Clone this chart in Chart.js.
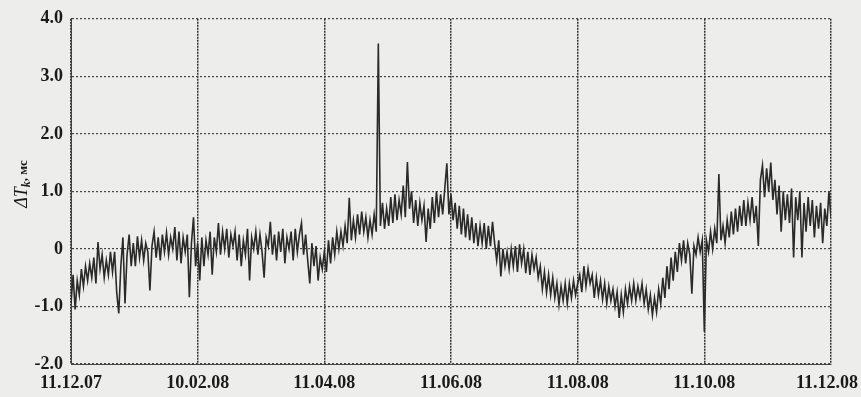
<!DOCTYPE html>
<html>
<head>
<meta charset="utf-8">
<script src="https://cdn.jsdelivr.net/npm/chart.js@4.4.1/dist/chart.umd.min.js"></script>
<style>
  html, body { margin: 0; padding: 0; background: #ededeb; }
  #wrap { width: 861px; height: 397px; }
</style>
</head>
<body>
<div id="wrap"><canvas id="chart" width="861" height="397"></canvas></div>
<script>
// day offsets of the date ticks (day 0 = 11.12.07)
const tickDays = [0, 61, 122, 183, 244, 305, 366];
const tickLabels = ['11.12.07', '10.02.08', '11.04.08', '11.06.08', '11.08.08', '11.10.08', '11.12.08'];
const yTicks = [-2, -1, 0, 1, 2, 3, 4];

// ΔT_k, ms, one reading per day
const deltaT = [
  // 11.12.07 - 10.02.08
  -0.95, -0.45, -1.05, -0.55, -0.8,
  -0.35, -0.65, -0.3, -0.55, -0.25,
  -0.5, -0.15, -0.6, 0.12, -0.35,
  -0.1, -0.5, -0.2, -0.45, -0.05,
  -0.4, -0.05, -0.75, -1.12, -0.3,
  0.2, -0.95, -0.1, 0.25, -0.3,
  0.1, -0.3, 0.22, -0.15, 0.15,
  -0.2, 0.1, -0.05, -0.72, 0.05,
  0.3, -0.15, 0.2, -0.2, 0.25,
  -0.05, 0.28, -0.1, 0.2, 0.0,
  0.38, -0.2, 0.3, -0.25, 0.2,
  -0.05, 0.25, -0.84, 0.1, 0.55,
  -0.3,
  // 10.02.08 - 11.04.08
  0.1, -0.55, 0.2, -0.3, 0.15,
  -0.1, 0.3, -0.45, 0.2, -0.05,
  0.45, -0.1, 0.3, 0.0, 0.35,
  -0.15, 0.25, 0.05, 0.3, -0.2,
  0.25, -0.3, 0.15, -0.1, 0.35,
  -0.55, 0.2, 0.0, 0.3, -0.1,
  0.25, -0.05, -0.5, 0.2, 0.05,
  0.47, -0.1, 0.25, -0.2, 0.3,
  -0.05, 0.35, -0.25, 0.2, 0.0,
  0.3, -0.2, 0.35, -0.05, 0.25,
  0.45, -0.1, 0.25, -0.2, -0.6,
  0.1, -0.3, 0.05, -0.55, -0.15,
  -0.35,
  // 11.04.08 - 11.06.08
  -0.05, -0.4, 0.15, -0.25,
  0.2, -0.1, 0.3, 0.0,
  0.3, 0.05, 0.4, 0.1, 0.89,
  0.15, 0.5, 0.2, 0.6, 0.25,
  0.65, 0.3, 0.55, 0.2, 0.5,
  0.25, 0.6, 0.3, 3.57, 0.4,
  0.8, 0.35, 0.7, 0.4, 0.9,
  0.45, 0.95, 0.5, 0.85, 0.6,
  1.1, 0.55, 1.51, 0.7, 1.0,
  0.45, 0.85, 0.4, 0.8, 0.5,
  0.75, 0.12, 0.7, 0.35, 0.9,
  0.45, 1.0, 0.55, 0.95, 0.6,
  1.05, 1.49, 0.6, 0.95,
  // 11.06.08 - 11.08.08
  0.5, 0.8, 0.35, 0.75,
  0.25, 0.7, 0.2, 0.6,
  0.15, 0.55, 0.1, 0.45, 0.05,
  0.4, 0.1, 0.45, 0.0, 0.4, 0.05, 0.47, 0.1,
  -0.2, 0.15, -0.48, 0.0, -0.3,
  -0.05, -0.35, 0.0, -0.3, 0.05,
  -0.4, 0.08, -0.25, 0.0, -0.42,
  -0.05, -0.45, -0.1, -0.35, -0.15,
  -0.5, -0.3, -0.7, -0.4, -0.76,
  -0.45, -0.8, -0.5, -0.85, -0.6,
  -0.97, -0.65, -0.9, -0.6, -0.95,
  -0.6, -0.85, -0.55, -0.8, -0.6,
  // 11.08.08 - 11.10.08
  -0.45, -0.75, -0.3,
  -0.65, -0.35, -0.6, -0.45, -0.85,
  -0.5, -0.8, -0.55, -0.88, -0.6,
  -0.95, -0.65, -0.9, -0.7, -1.0,
  -0.75, -1.2, -0.8, -1.1,
  -0.7, -0.95, -0.65, -0.9, -0.6,
  -0.9, -0.65, -0.85, -0.6, -0.95,
  -0.7, -1.05, -0.8, -1.15, -0.85,
  -1.1, -0.7, -0.95, -0.5, -0.85,
  -0.3, -0.7, -0.15, -0.55,
  -0.05, -0.4, 0.1, -0.2, 0.15,
  -0.25, 0.1, -0.1, -0.78,
  0.05, -0.1, 0.2, -0.05, 0.15, -1.44,
  // 11.10.08 - 11.12.08
  0.15, -0.05, 0.3, 0.0, 0.35,
  0.1, 1.3, 0.15, 0.4, 0.1,
  0.5, 0.2, 0.65, 0.25,
  0.7, 0.3, 0.75, 0.4, 0.85,
  0.4, 0.8, 0.5, 0.9, 0.45, 0.75, 0.05,
  1.2, 1.45, 0.9, 1.4, 1.0, 1.5, 0.85,
  1.2, 0.6, 1.1, 0.3, 1.0, 0.5, 0.95,
  0.45, 1.05, -0.15, 0.9, 0.5, 1.0, -0.15,
  0.8, 0.3, 0.9, 0.4, 0.85, 0.2,
  0.75, 0.35, 0.8, 0.1, 0.7,
  0.4, 1.0, 0.55
];

const points = deltaT.map((v, i) => ({ x: i, y: v }));

// paper background + custom labels
const paperAndLabels = {
  id: 'paperAndLabels',
  beforeDraw(chart) {
    const ctx = chart.ctx;
    ctx.save();
    ctx.fillStyle = '#ededeb';
    ctx.fillRect(0, 0, chart.width, chart.height);
    ctx.restore();
  },
  afterDraw(chart) {
    const ctx = chart.ctx;
    const xs = chart.scales.x;
    ctx.save();
    ctx.fillStyle = '#1a1a1a';
    ctx.font = 'bold 18px "Liberation Serif"';
    ctx.textBaseline = 'middle';
    tickDays.forEach((d, i) => {
      const px = xs.getPixelForValue(d);
      const w = ctx.measureText(tickLabels[i]).width;
      let left = px - w / 2;
      if (left + w > chart.width - 3) left = chart.width - 3 - w;
      ctx.textAlign = 'left';
      ctx.fillText(tickLabels[i], left, 383);
    });

    // y axis title: ΔT_k, мс (rotated)
    ctx.translate(21, 184);
    ctx.rotate(-Math.PI / 2);
    ctx.textAlign = 'left';
    ctx.textBaseline = 'alphabetic';
    const parts = [
      { t: 'ΔT', f: 'italic 18px "Liberation Serif"', dy: 0 },
      { t: 'k', f: 'italic bold 12px "Liberation Serif"', dy: 3 },
      { t: ', мс', f: 'bold 13px "Liberation Serif"', dy: 0 }
    ];
    let total = 0;
    parts.forEach(p => { ctx.font = p.f; total += ctx.measureText(p.t).width; });
    let cx = -total / 2;
    parts.forEach(p => {
      ctx.font = p.f;
      ctx.fillText(p.t, cx, 6 + p.dy);
      cx += ctx.measureText(p.t).width;
    });
    ctx.restore();
  }
};

new Chart(document.getElementById('chart').getContext('2d'), {
  type: 'line',
  data: {
    datasets: [{
      data: points,
      borderColor: '#2a2a2a',
      borderWidth: 1.6,
      pointRadius: 0,
      tension: 0,
      fill: false
    }]
  },
  options: {
    responsive: false,
    animation: false,
    layout: { padding: { left: 0, right: 30, top: 15, bottom: 0 } },
    plugins: { legend: { display: false }, tooltip: { enabled: false } },
    scales: {
      x: {
        type: 'linear',
        min: 0,
        max: 366,
        afterBuildTicks: scale => { scale.ticks = tickDays.map(v => ({ value: v })); },
        afterFit: scale => { scale.height = 33; },
        ticks: { display: false },
        grid: { color: '#333', lineWidth: 1.5, drawTicks: false },
        border: { display: true, color: '#444', dash: [2, 1] }
      },
      y: {
        min: -2,
        max: 4,
        afterBuildTicks: scale => { scale.ticks = yTicks.map(v => ({ value: v })); },
        afterFit: scale => { scale.width = 71; },
        ticks: {
          padding: 8,
          color: '#1a1a1a',
          font: { family: 'Liberation Serif', size: 18, weight: 'bold' },
          callback: v => (v === 0 ? '0' : v.toFixed(1))
        },
        grid: { color: '#444', lineWidth: 1.2, drawTicks: false },
        border: { display: true, color: '#444', dash: [2, 2] }
      }
    }
  },
  plugins: [paperAndLabels]
});
</script>
</body>
</html>
